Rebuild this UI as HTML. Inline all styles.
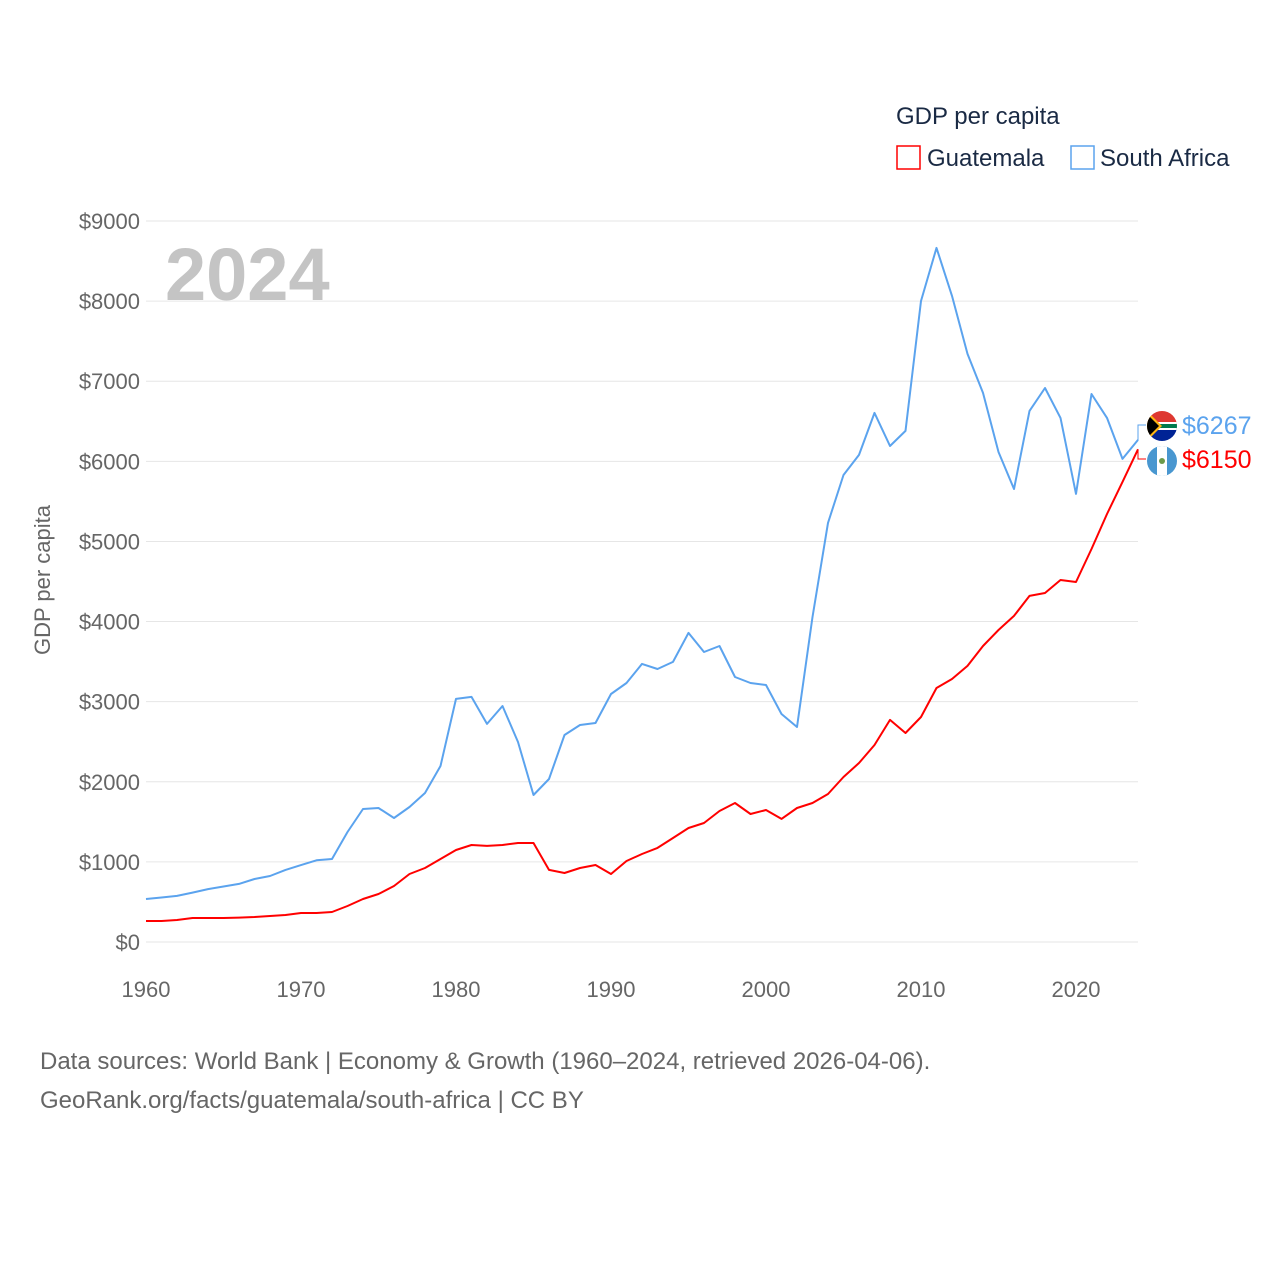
<!DOCTYPE html>
<html><head><meta charset="utf-8"><style>
body{margin:0;background:#fff;font-family:"Liberation Sans",sans-serif}
</style></head><body>
<svg id="chart" width="1280" height="1280" viewBox="0 0 1280 1280" xmlns="http://www.w3.org/2000/svg" font-family="Liberation Sans, sans-serif">
<rect width="1280" height="1280" fill="#fff"/>
<g id="grid"></g>
<g id="yticks"></g>
<g id="xticks"></g>
<text x="165" y="300" font-size="74" font-weight="bold" fill="#c4c4c4">2024</text>
<text transform="translate(50,580) rotate(-90)" text-anchor="middle" font-size="22" fill="#666">GDP per capita</text>
<text x="896" y="124" font-size="24" fill="#1a2a44">GDP per capita</text>
<rect x="897" y="146" width="23" height="23" fill="none" stroke="#f00" stroke-width="1.5"/>
<text x="927" y="166" font-size="24" fill="#1a2a44">Guatemala</text>
<rect x="1071" y="146" width="23" height="23" fill="none" stroke="#5ba3ee" stroke-width="1.5"/>
<text x="1100" y="166" font-size="24" fill="#1a2a44">South Africa</text>
<g id="series"></g>
<g id="endlabels"></g>
<text x="40" y="1069" font-size="24" fill="#666">Data sources: World Bank | Economy &amp; Growth (1960–2024, retrieved 2026-04-06).</text>
<text x="40" y="1108" font-size="24" fill="#666">GeoRank.org/facts/guatemala/south-africa | CC BY</text>
</svg>
<script>
const years=[];for(let y=1960;y<=2024;y++)years.push(y);
const southAfrica=[537,556,575,617,660,693,725,786,824,900,960,1020,1036,1373,1660,1673,1548,1685,1860,2197,3034,3059,2722,2946,2497,1835,2035,2584,2709,2734,3096,3233,3471,3408,3496,3858,3620,3695,3308,3233,3208,2846,2684,4057,5231,5830,6080,6604,6192,6380,8002,8664,8065,7341,6854,6117,5655,6629,6916,6542,5593,6841,6542,6030,6267];
const guatemala=[262,262,275,300,300,300,305,312,325,337,362,362,375,449,537,599,699,849,924,1036,1149,1211,1199,1211,1236,1236,900,861,924,961,849,1011,1099,1174,1298,1423,1486,1635,1735,1598,1648,1536,1673,1735,1848,2060,2235,2459,2772,2609,2809,3171,3283,3446,3695,3895,4070,4320,4357,4519,4494,4906,5343,5743,6150];
const yTicks=[0,1000,2000,3000,4000,5000,6000,7000,8000,9000];
const xTicks=[1960,1970,1980,1990,2000,2010,2020];
const NS="http://www.w3.org/2000/svg";
const X=y=>146+(y-1960)*(1138-146)/64;
const Y=v=>942-v*(942-221)/9000;
function mk(tag,attrs,parent,txt){const e=document.createElementNS(NS,tag);for(const k in attrs)e.setAttribute(k,attrs[k]);if(txt!==undefined)e.textContent=txt;document.getElementById(parent).appendChild(e);return e;}
yTicks.forEach(v=>{
  const l=mk('line',{x1:146,x2:1138,y1:Y(v),y2:Y(v),stroke:'#e6e6e6','stroke-width':1},'grid');
  
  
  const t=mk('text',{x:140,y:Y(v)+8,'text-anchor':'end','font-size':22,fill:'#666'},'yticks','$'+v);
  
  
});
xTicks.forEach(v=>{
  const t=mk('text',{x:X(v),y:997,'text-anchor':'middle','font-size':22,fill:'#666'},'xticks',String(v));
  
  
});
function line(data,color,name){
  const d=data.map((v,i)=>(i?'L':'M')+X(years[i]).toFixed(1)+','+Y(v).toFixed(1)).join('');
  const p=mk('path',{d:d,fill:'none',stroke:color,'stroke-width':2,'stroke-linejoin':'round'},'series');
  
  
}
line(southAfrica,'#5ba3ee','south-africa-line');
line(guatemala,'#f00','guatemala-line');
const n=years.length-1;
// end labels
const saY=425, gtY=459;
let c=mk('path',{d:`M${X(2024)},${Y(southAfrica[n])}V${saY}H1146`,fill:'none',stroke:'#5ba3ee','stroke-width':1},'endlabels');

c=mk('path',{d:`M${X(2024)},${Y(guatemala[n])}V${gtY}H1146`,fill:'none',stroke:'#f00','stroke-width':1},'endlabels');

// SA flag
let g=mk('g',{},'endlabels');
g.innerHTML=`<clipPath id="c1"><circle cx="1162" cy="426" r="15"/></clipPath><g clip-path="url(#c1)"><rect x="1147" y="411" width="30" height="15" fill="#de3831"/><rect x="1147" y="426" width="30" height="15" fill="#002395"/><rect x="1147" y="422" width="30" height="8" fill="#fff"/><rect x="1147" y="424" width="30" height="4" fill="#007a4d"/><path d="M1147,411L1162,426L1147,441Z" fill="#ffb612"/><path d="M1147,414L1159,426L1147,438Z" fill="#000"/></g>`;
g=mk('g',{},'endlabels');
g.innerHTML=`<clipPath id="c2"><circle cx="1162" cy="461" r="15"/></clipPath><g clip-path="url(#c2)"><rect x="1147" y="446" width="30" height="30" fill="#4997d0"/><rect x="1157" y="446" width="10" height="30" fill="#fff"/><circle cx="1162" cy="461" r="3" fill="#6c9a4a"/></g>`;
let t=mk('text',{x:1182,y:434,'font-size':25,fill:'#5ba3ee'},'endlabels','$'+southAfrica[n]);

t=mk('text',{x:1182,y:468,'font-size':25,fill:'#f00'},'endlabels','$'+guatemala[n]);

</script>
</body></html>
